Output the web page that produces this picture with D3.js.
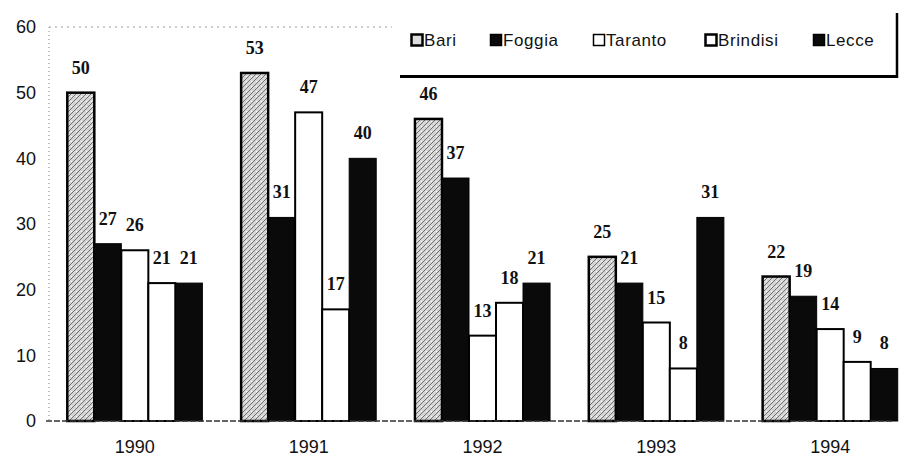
<!DOCTYPE html>
<html>
<head>
<meta charset="utf-8">
<script src="https://cdn.jsdelivr.net/npm/d3@7"></script>
<style>
  body { margin: 0; background: #fff; }
  svg { display: block; }
  .tick-label { font-family: "Liberation Sans", Arial, sans-serif; font-size: 18px; fill: #111; }
  .value-label { font-family: "Liberation Serif", "Times New Roman", serif; font-size: 18px; font-weight: bold; fill: #111; }
  .legend-label { font-family: "Liberation Sans", Arial, sans-serif; font-size: 17px; fill: #111; letter-spacing: 0.6px; }
</style>
</head>
<body>
<div id="chart"></div>
<script>
// data
const years = ['1990', '1991', '1992', '1993', '1994'];
const cities = ['Bari', 'Foggia', 'Taranto', 'Brindisi', 'Lecce'];
const bari     = [50, 53, 46, 25, 22];
const foggia   = [27, 31, 37, 21, 19];
const taranto  = [26, 47, 13, 15, 14];
const brindisi = [21, 17, 18, 8, 9];
const lecce    = [21, 40, 21, 31, 8];
const yTicks = [0, 10, 20, 30, 40, 50, 60];

const seriesValues = [bari, foggia, taranto, brindisi, lecce];

const width = 904, height = 456;

const svg = d3.select('#chart').append('svg')
    .attr('width', width)
    .attr('height', height);

// pattern for Bari (grey stipple with diagonal hatching)
const defs = svg.append('defs');
const pat = defs.append('pattern')
    .attr('id', 'bariFill')
    .attr('patternUnits', 'userSpaceOnUse')
    .attr('width', 5)
    .attr('height', 5);
pat.append('rect').attr('width', 5).attr('height', 5).attr('fill', '#d6d6d6');
pat.append('path').attr('d', 'M0,5 L5,0 M-1,1 L1,-1 M4,6 L6,4')
    .attr('stroke', '#555').attr('stroke-width', 0.8);
pat.append('rect').attr('x', 1).attr('y', 1).attr('width', 1).attr('height', 1).attr('fill', '#fff');

const styles = {
    Bari:     { fill: 'url(#bariFill)', stroke: '#000', sw: 2.5 },
    Foggia:   { fill: '#0a0a0a', stroke: '#000', sw: 1 },
    Taranto:  { fill: '#fff', stroke: '#000', sw: 2 },
    Brindisi: { fill: '#fff', stroke: '#000', sw: 2 },
    Lecce:    { fill: '#0a0a0a', stroke: '#000', sw: 1 }
};

const x = d3.scaleBand()
    .domain(years)
    .range([48, 917])
    .paddingInner(0.223)
    .paddingOuter(0.111);

const xInner = d3.scaleBand()
    .domain(cities)
    .range([0, x.bandwidth()]);

const y = d3.scaleLinear()
    .domain([0, 60])
    .range([421, 27]);

// faint dotted frame (left axis + top)
svg.append('line')
    .attr('x1', 49).attr('x2', 49)
    .attr('y1', y(60)).attr('y2', y(0))
    .attr('stroke', '#888').attr('stroke-width', 1)
    .attr('stroke-dasharray', '1,3');
svg.append('line')
    .attr('x1', 49).attr('x2', 392)
    .attr('y1', y(60)).attr('y2', y(60))
    .attr('stroke', '#999').attr('stroke-width', 1)
    .attr('stroke-dasharray', '2,4');

// y tick labels
svg.append('g').selectAll('text')
    .data(yTicks)
    .join('text')
    .attr('class', 'tick-label')
    .attr('x', 36)
    .attr('y', d => y(d))
    .attr('dy', '0.35em')
    .attr('text-anchor', 'end')
    .text(d => d);

// bars
const rows = [];
years.forEach((yr, i) => {
    cities.forEach((c, j) => {
        rows.push({ year: yr, city: c, value: seriesValues[j][i] });
    });
});

const bars = svg.append('g');
bars.selectAll('rect')
    .data(rows)
    .join('rect')
    .attr('x', d => x(d.year) + xInner(d.city))
    .attr('y', d => y(d.value))
    .attr('width', xInner.bandwidth())
    .attr('height', d => y(0) - y(d.value))
    .attr('fill', d => styles[d.city].fill)
    .attr('stroke', d => styles[d.city].stroke)
    .attr('stroke-width', d => styles[d.city].sw);

// value labels
svg.append('g').selectAll('text')
    .data(rows)
    .join('text')
    .attr('class', 'value-label')
    .attr('x', d => x(d.year) + xInner(d.city) + xInner.bandwidth() / 2)
    .attr('y', d => y(d.value) - 19)
    .attr('text-anchor', 'middle')
    .text(d => d.value);

// baseline
svg.append('line')
    .attr('x1', 46).attr('x2', 894)
    .attr('y1', y(0)).attr('y2', y(0))
    .attr('stroke', '#333').attr('stroke-width', 1.5)
    .attr('stroke-dasharray', '6,2');

// x labels
svg.append('g').selectAll('text')
    .data(years)
    .join('text')
    .attr('class', 'tick-label')
    .attr('x', d => x(d) + x.bandwidth() / 2)
    .attr('y', 453)
    .attr('text-anchor', 'middle')
    .text(d => d);

// legend
const legendX = [411, 490, 593, 705, 813];
const legend = svg.append('g');
legend.append('line')
    .attr('x1', 400).attr('x2', 898)
    .attr('y1', 76.5).attr('y2', 76.5)
    .attr('stroke', '#000').attr('stroke-width', 3);
legend.append('line')
    .attr('x1', 897).attr('x2', 897)
    .attr('y1', 13).attr('y2', 78)
    .attr('stroke', '#000').attr('stroke-width', 2.5);

const items = legend.selectAll('g.item')
    .data(cities)
    .join('g')
    .attr('class', 'item')
    .attr('transform', (d, i) => `translate(${legendX[i]},0)`);

items.append('rect')
    .attr('x', 0.5).attr('y', 34.5)
    .attr('width', 11).attr('height', 11)
    .attr('fill', d => d === 'Bari' ? '#ddd' : styles[d].fill)
    .attr('stroke', '#000')
    .attr('stroke-width', d => (d === 'Bari' || d === 'Brindisi') ? 2.5 : 1.5);

items.append('text')
    .attr('class', 'legend-label')
    .attr('x', 13)
    .attr('y', 40)
    .attr('dy', '0.35em')
    .text(d => d);
</script>
</body>
</html>
